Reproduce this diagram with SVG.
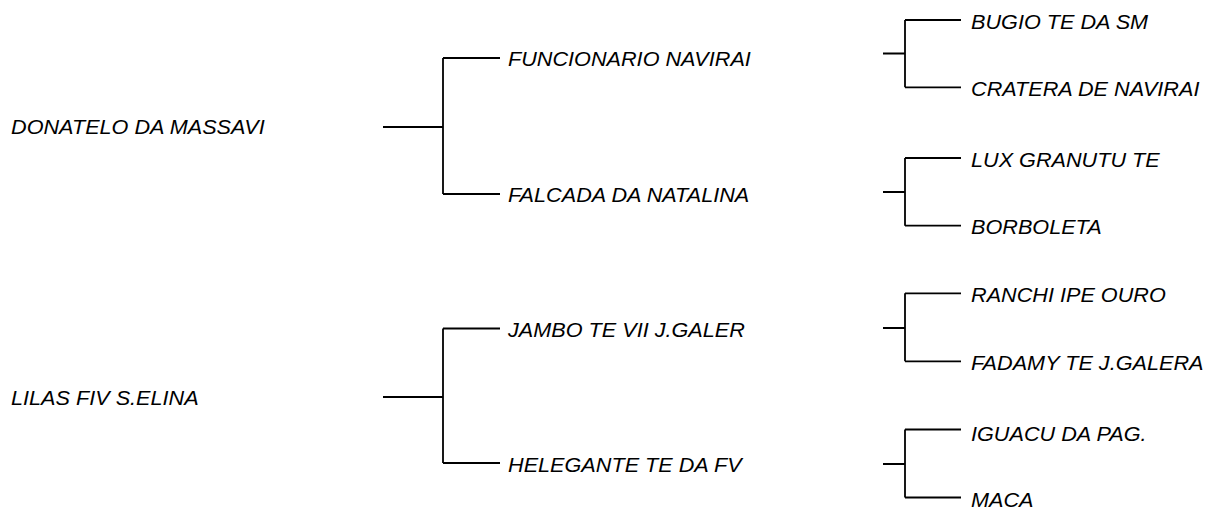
<svg xmlns="http://www.w3.org/2000/svg" width="1207" height="507" viewBox="0 0 1207 507">
<style>
text{font-family:"Liberation Sans",Arial,sans-serif;font-style:italic;font-size:19.5px;fill:#000}
.c path{fill:none;stroke:#000;stroke-width:1.8}
</style>
<rect width="1207" height="507" fill="#fff"/>
<g class="c" id="connectors">
<path d="M383,127H443M443,58V194M443,58H500M443,194H500"/>
<path d="M883,53.5H905M905,20V87.3M905,20H961M905,87.3H961"/>
<path d="M883,192H905M905,158V225.7M905,158H961M905,225.7H961"/>
<path d="M383,397H443M443,328.5V463M443,328.5H500M443,463H500"/>
<path d="M883,328H905M905,293.3V361.3M905,293.3H961M905,361.3H961"/>
<path d="M883,464H905M905,429.5V497.5M905,429.5H961M905,497.5H961"/>
</g>
<g id="n1"><text transform="translate(11,134.3) scale(1.11,1)">DONATELO DA MASSAVI</text></g>
<g id="n2"><text transform="translate(508,66.3) scale(1.11,1)">FUNCIONARIO NAVIRAI</text></g>
<g id="n3"><text transform="translate(508,202) scale(1.11,1)">FALCADA DA NATALINA</text></g>
<g id="n4"><text transform="translate(971,29) scale(1.11,1)">BUGIO TE DA SM</text></g>
<g id="n5"><text transform="translate(971,96) scale(1.11,1)">CRATERA DE NAVIRAI</text></g>
<g id="n6"><text transform="translate(971,166.5) scale(1.11,1)">LUX GRANUTU TE</text></g>
<g id="n7"><text transform="translate(971,234) scale(1.11,1)">BORBOLETA</text></g>
<g id="n8"><text transform="translate(11,404.5) scale(1.11,1)">LILAS FIV S.ELINA</text></g>
<g id="n9"><text transform="translate(508,336.7) scale(1.11,1)">JAMBO TE VII J.GALER</text></g>
<g id="n10"><text transform="translate(508,471.5) scale(1.11,1)">HELEGANTE TE DA FV</text></g>
<g id="n11"><text transform="translate(971,302) scale(1.11,1)">RANCHI IPE OURO</text></g>
<g id="n12"><text transform="translate(971,370) scale(1.11,1)">FADAMY TE J.GALERA</text></g>
<g id="n13"><text transform="translate(971,440.7) scale(1.11,1)">IGUACU DA PAG.</text></g>
<g id="n14"><text transform="translate(971,507) scale(1.11,1)">MACA</text></g>
</svg>
